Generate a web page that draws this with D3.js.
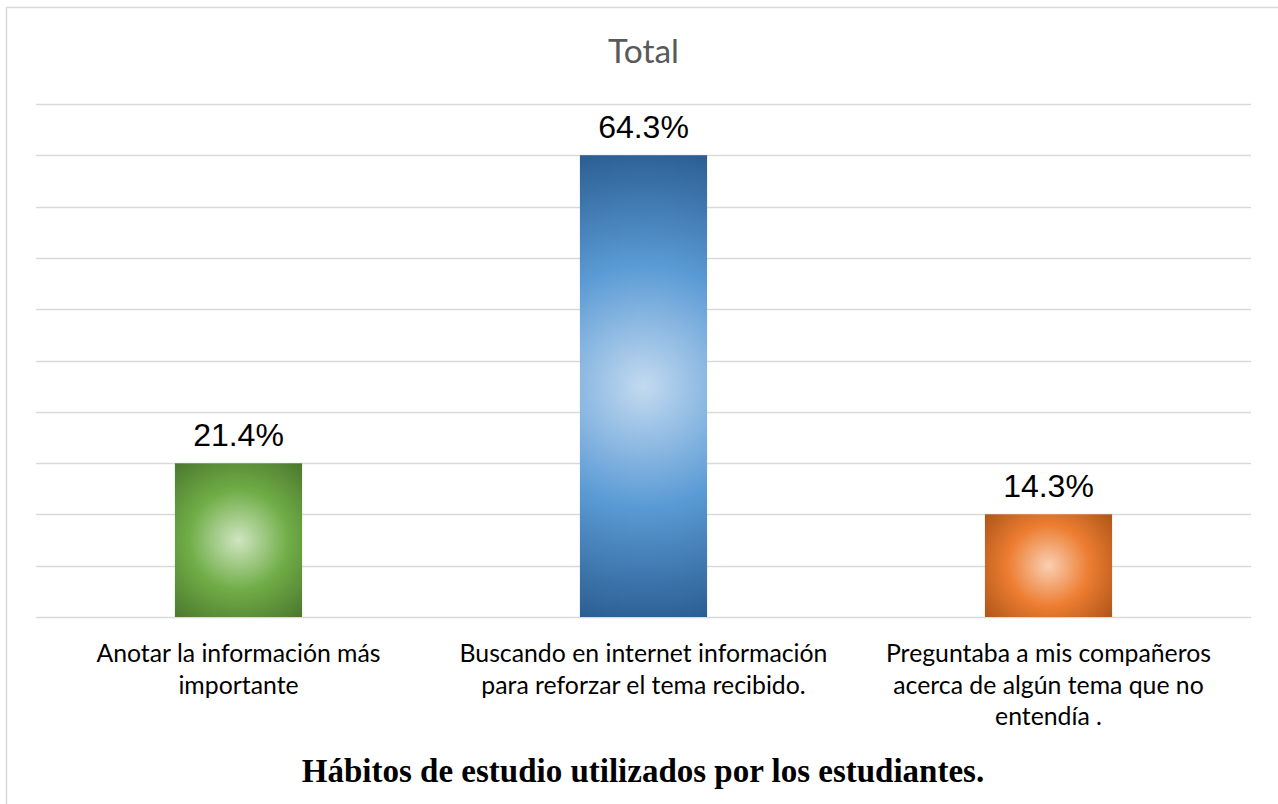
<!DOCTYPE html>
<html><head><meta charset="utf-8">
<script src="https://cdn.jsdelivr.net/npm/d3@7"></script>
<style>html,body{margin:0;padding:0;background:#fff;overflow:hidden}</style>
</head><body>
<script>
// ---- data ----
const categories = ["Anotar", "Buscando", "Preguntaba"];
const categoryLabels = [
  ["Anotar la información más", "importante"],
  ["Buscando en internet información", "para reforzar el tema recibido."],
  ["Preguntaba a mis compañeros", "acerca de algún tema que no", "entendía ."]
];
const values = [21.4, 64.3, 14.3];           // percent
const valueLabels = ["21.4%", "64.3%", "14.3%"];
const gridStep = 100 / 14;                     // one respondent out of 14
const gridCount = 10;
const chartTitle = "Total";
const caption = "Hábitos de estudio utilizados por los estudiantes.";
const palettes = [
  {light: "#cfe5c1", base: "#70ad47", dark: "#4b772d"},
  {light: "#c3daf0", base: "#5b9bd5", dark: "#2a5e92"},
  {light: "#f9cfb2", base: "#ed7d31", dark: "#ad5519"}
];

const W = 1278, H = 804;
const svg = d3.select("body").append("svg").attr("width", W).attr("height", H);
const defs = svg.append("defs");

// outer border
svg.append("rect").attr("x", 6.5).attr("y", 7.5).attr("width", W + 20).attr("height", H + 20)
  .attr("fill", "none").attr("stroke", "#d9d9d9").attr("stroke-width", 1.5);

const x = d3.scaleBand().domain(categories).range([36, 1251]).paddingInner(0.686).paddingOuter(0.343);
const y = d3.scaleLinear().domain([0, gridStep * gridCount]).range([617, 104]);

// gridlines
const grid = d3.range(0, gridCount + 1).map(i => i * gridStep);
svg.append("g").selectAll("line").data(grid).join("line")
  .attr("x1", 36).attr("x2", 1251)
  .attr("y1", d => Math.round(y(d)) + 0.5).attr("y2", d => Math.round(y(d)) + 0.5)
  .attr("stroke", "#d9d9d9").attr("stroke-width", 1.6);

// gradients + bars
values.forEach((v, i) => {
  const bx = x(categories[i]), bw = x.bandwidth();
  const by = y(v), bh = y(0) - y(v);
  const cx = bx + bw / 2, cy = by + bh / 2;
  const r = Math.sqrt(bw * bw + bh * bh) / 2;
  const p = palettes[i];
  const g = defs.append("radialGradient").attr("id", "g" + i)
    .attr("gradientUnits", "userSpaceOnUse")
    .attr("cx", cx).attr("cy", cy).attr("r", r).attr("fx", cx).attr("fy", cy);
  g.append("stop").attr("offset", "0").attr("stop-color", p.light);
  g.append("stop").attr("offset", "0.5").attr("stop-color", p.base);
  g.append("stop").attr("offset", "1").attr("stop-color", p.dark);
});

svg.append("g").selectAll("rect").data(values).join("rect")
  .attr("x", (d, i) => x(categories[i]))
  .attr("y", d => y(d))
  .attr("width", x.bandwidth())
  .attr("height", d => y(0) - y(d))
  .attr("fill", (d, i) => `url(#g${i})`);

// value labels
svg.append("g").selectAll("text").data(values).join("text")
  .attr("x", (d, i) => x(categories[i]) + x.bandwidth() / 2)
  .attr("y", d => y(d) - 17)
  .attr("text-anchor", "middle")
  .attr("font-family", "Liberation Sans, Arial, sans-serif")
  .attr("font-size", 32).attr("fill", "#000")
  .text((d, i) => valueLabels[i]);

// category labels
const cl = svg.append("g").selectAll("text").data(categories).join("text")
  .attr("text-anchor", "middle")
  .attr("font-family", "Lato, sans-serif")
  .attr("font-size", 24.8).attr("fill", "#000");
cl.each(function(d, i) {
  d3.select(this).selectAll("tspan").data(categoryLabels[i]).join("tspan")
    .attr("x", x(d) + x.bandwidth() / 2)
    .attr("y", (t, j) => 662 + j * 31.5)
    .text(t => t);
});

// title
svg.append("text").attr("x", 643.5).attr("y", 63).attr("text-anchor", "middle")
  .attr("font-family", "Lato, sans-serif").attr("font-size", 33.5).attr("fill", "#595959")
  .text(chartTitle);

// caption
svg.append("text").attr("x", 643).attr("y", 782).attr("text-anchor", "middle")
  .attr("font-family", "Liberation Serif, Times New Roman, serif").attr("font-weight", "bold")
  .attr("font-size", 33).attr("fill", "#000")
  .text(caption);
</script>
</body></html>
